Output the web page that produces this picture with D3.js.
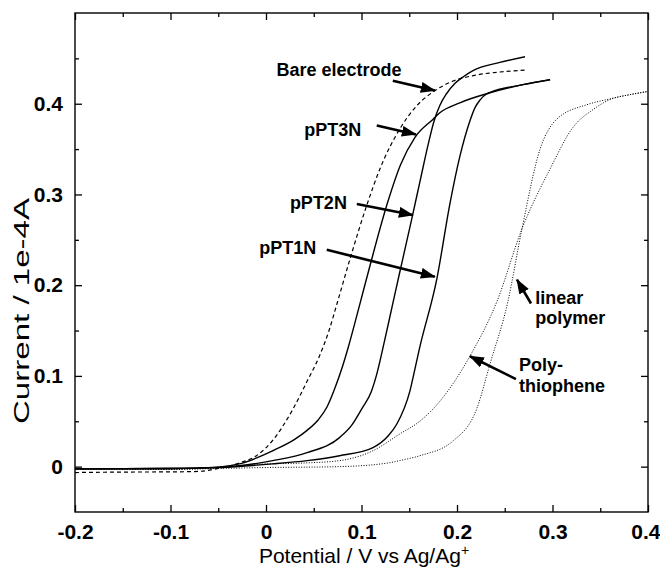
<!DOCTYPE html>
<html>
<head>
<meta charset="utf-8">
<script src="https://cdn.jsdelivr.net/npm/d3@7"></script>
<style>
body { margin: 0; background: #fff; }
text { font-family: "Liberation Sans", Arial, sans-serif; fill: #000; }
</style>
</head>
<body>
<svg id="chart"></svg>
<script>
// potential (V vs Ag/Ag+), current (1e-4 A)
var bareElectrode = [[-0.2,-0.0065],[-0.15,-0.006],[-0.1,-0.0058],[-0.07,-0.0052],[-0.05,-0.002],[-0.04,0.0],[-0.028,0.004],[-0.01,0.012],[0.007,0.029],[0.028,0.063],[0.043,0.094],[0.056,0.122],[0.066,0.150],[0.075,0.182],[0.088,0.229],[0.1055,0.288],[0.12,0.33],[0.14,0.372],[0.158,0.398],[0.177,0.4145],[0.196,0.425],[0.217,0.431],[0.245,0.435],[0.272,0.437]];
var pPT3N = [[-0.2,-0.0025],[-0.1,-0.002],[-0.05,-0.0005],[-0.028,0.003],[0.007,0.0175],[0.03,0.030],[0.043,0.040],[0.055,0.052],[0.064,0.066],[0.072,0.086],[0.08,0.110],[0.086,0.131],[0.098,0.178],[0.109,0.222],[0.127,0.290],[0.141,0.333],[0.156,0.363],[0.175,0.383],[0.182,0.39],[0.203,0.401],[0.2345,0.412],[0.269,0.421],[0.2975,0.4265]];
var pPT2N = [[-0.2,-0.0025],[-0.1,-0.002],[-0.05,-0.0008],[-0.028,0.001],[0.007,0.0066],[0.043,0.0154],[0.077,0.032],[0.09,0.046],[0.101,0.065],[0.11,0.082],[0.116,0.102],[0.124,0.138],[0.132,0.176],[0.14,0.214],[0.152,0.270],[0.162,0.318],[0.170,0.356],[0.176,0.381],[0.182,0.398],[0.189,0.411],[0.198,0.4225],[0.207,0.430],[0.2167,0.4365],[0.245,0.4455],[0.2712,0.4518]];
var pPT1N = [[-0.2,-0.0025],[-0.1,-0.002],[-0.05,-0.001],[0.007,0.003],[0.043,0.0066],[0.077,0.012],[0.112,0.021],[0.128,0.034],[0.137,0.047],[0.1506,0.083],[0.158,0.1175],[0.1611,0.132],[0.1789,0.207],[0.1926,0.290],[0.203,0.342],[0.2135,0.381],[0.219,0.396],[0.224,0.404],[0.2313,0.411],[0.2345,0.4125],[0.269,0.421],[0.2975,0.4265]];
var polythiophene = [[-0.2,-0.003],[-0.1,-0.003],[-0.05,-0.001],[-0.028,0.001],[0.0,0.003],[0.04,0.004],[0.077,0.0066],[0.112,0.0175],[0.14,0.036],[0.161,0.05],[0.182,0.072],[0.2135,0.1217],[0.2418,0.182],[0.268,0.262],[0.2974,0.328],[0.3215,0.374],[0.3425,0.3936],[0.36,0.4045],[0.381,0.41],[0.4,0.4135]];
var linearPolymer = [[-0.2,-0.003],[-0.1,-0.003],[-0.05,-0.002],[0.0,-0.001],[0.077,0.0],[0.13,0.0044],[0.14,0.0067],[0.161,0.012],[0.196,0.0285],[0.221,0.0647],[0.2345,0.113],[0.2533,0.182],[0.268,0.262],[0.287,0.35],[0.3045,0.383],[0.3362,0.399],[0.357,0.4046],[0.381,0.41],[0.4,0.4135]];

var xTicks = [-0.2,-0.1,0,0.1,0.2,0.3,0.4];
var xMinor = [-0.15,-0.05,0.05,0.15,0.25,0.35];
var yTicks = [0,0.1,0.2,0.3,0.4];
var yMinor = [0.05,0.15,0.25,0.35,0.45];

// label text, anchor point in data units
var labels = [
    {lines:["Bare electrode"], x:0.011, y:[0.431]},
    {lines:["pPT3N"], x:0.040, y:[0.364]},
    {lines:["pPT2N"], x:0.025, y:[0.284]},
    {lines:["pPT1N"], x:-0.007, y:[0.234]},
    {lines:["linear","polymer"], x:0.282, y:[0.179,0.157]},
    {lines:["Poly-","thiophene"], x:0.265, y:[0.105,0.082]}
];
// arrows: tail -> tip, data units
var arrows = [
    [[0.1328,0.4254],[0.1768,0.4145]],
    [[0.1160,0.3761],[0.1569,0.3662]],
    [[0.0951,0.2895],[0.1538,0.2774]],
    [[0.0636,0.2390],[0.1768,0.2094]],
    [[0.2775,0.1798],[0.2628,0.2061]],
    [[0.2617,0.0965],[0.2135,0.1217]]
];

function drawChart() {
    var W = 660, H = 569;
    var mLeft = 75, mRight = 648, mTop = 13, mBottom = 512;

    var svg = d3.select("#chart").attr("width", W).attr("height", H);

    var x = d3.scaleLinear().domain([-0.2, 0.4]).range([mLeft, mRight]);
    var y = d3.scaleLinear().domain([-0.05, 0.5]).range([mBottom, mTop]);

    var fmt = function(d) { return Math.abs(d) < 1e-9 ? "0" : d.toFixed(1); };

    var defs = svg.append("defs");
    defs.append("clipPath").attr("id", "plotclip")
        .append("rect").attr("x", mLeft).attr("y", mTop)
        .attr("width", mRight - mLeft).attr("height", mBottom - mTop);

    defs.append("marker")
        .attr("id", "head")
        .attr("markerUnits", "userSpaceOnUse")
        .attr("viewBox", "0 0 15 11")
        .attr("refX", 14).attr("refY", 5.5)
        .attr("markerWidth", 15).attr("markerHeight", 11)
        .attr("orient", "auto")
      .append("path").attr("d", "M0,0 L15,5.5 L0,11 Z").attr("fill", "#000");

    function tickAxis(axis, ticks, size, cls, pos, labelled) {
        var g = svg.append("g").attr("class", cls).attr("transform", pos)
            .call(axis.tickValues(ticks).tickSize(-size).tickPadding(12)
                .tickFormat(labelled ? fmt : ""));
        g.select(".domain").remove();
        g.selectAll("line").attr("stroke", "#000").attr("stroke-width", 1.3);
        return g;
    }

    tickAxis(d3.axisBottom(x), xTicks, 7, "xaxis", "translate(0," + mBottom + ")", true);
    tickAxis(d3.axisBottom(x), xMinor, 4, "xminor", "translate(0," + mBottom + ")", false);
    tickAxis(d3.axisTop(x), xTicks, 7, "xtop", "translate(0," + mTop + ")", false);
    tickAxis(d3.axisTop(x), xMinor, 4, "xtopminor", "translate(0," + mTop + ")", false);
    tickAxis(d3.axisLeft(y), yTicks, 7, "yaxis", "translate(" + mLeft + ",0)", true);
    tickAxis(d3.axisLeft(y), yMinor, 4, "yminor", "translate(" + mLeft + ",0)", false);
    tickAxis(d3.axisRight(y), yTicks, 7, "yright", "translate(" + mRight + ",0)", false);
    tickAxis(d3.axisRight(y), yMinor, 4, "yrightminor", "translate(" + mRight + ",0)", false);

    svg.selectAll(".xaxis text, .yaxis text")
        .style("font-size", "21px").style("font-weight", "bold");
    svg.selectAll(".xaxis .tick:last-of-type text").attr("text-anchor", "end").attr("dx", "12");

    svg.append("rect")
        .attr("x", mLeft).attr("y", mTop)
        .attr("width", mRight - mLeft).attr("height", mBottom - mTop)
        .attr("fill", "none").attr("stroke", "#000").attr("stroke-width", 1.4);

    var line = d3.line()
        .x(function(d) { return x(d[0]); })
        .y(function(d) { return y(d[1]); })
        .curve(d3.curveMonotoneX);

    var series = [
        {data: bareElectrode, dash: "4,3", w: 1.2},
        {data: pPT3N, dash: null, w: 1.4},
        {data: pPT2N, dash: null, w: 1.4},
        {data: pPT1N, dash: null, w: 1.4},
        {data: polythiophene, dash: "1,1.6", w: 1.0},
        {data: linearPolymer, dash: "1,1.6", w: 1.0}
    ];

    svg.append("g").attr("clip-path", "url(#plotclip)")
        .selectAll("path")
        .data(series)
        .enter().append("path")
        .attr("d", function(d) { return line(d.data); })
        .attr("fill", "none")
        .attr("stroke", "#000")
        .attr("stroke-width", function(d) { return d.w; })
        .attr("stroke-dasharray", function(d) { return d.dash; });

    svg.append("g").selectAll("line")
        .data(arrows)
        .enter().append("line")
        .attr("x1", function(d) { return x(d[0][0]); })
        .attr("y1", function(d) { return y(d[0][1]); })
        .attr("x2", function(d) { return x(d[1][0]); })
        .attr("y2", function(d) { return y(d[1][1]); })
        .attr("stroke", "#000")
        .attr("stroke-width", 2.6)
        .attr("marker-end", "url(#head)");

    labels.forEach(function(l) {
        l.lines.forEach(function(s, i) {
            svg.append("text")
                .attr("x", x(l.x)).attr("y", y(l.y[i]))
                .style("font-size", "18px").style("font-weight", "bold")
                .text(s);
        });
    });

    var xt = svg.append("text")
        .attr("x", 364).attr("y", 563)
        .attr("text-anchor", "middle")
        .style("font-size", "21px")
        .text("Potential / V vs Ag/Ag");
    xt.append("tspan").attr("baseline-shift", "super").style("font-size", "14px").text("+");

    // the scan is stretched vertically, so the rotated title runs long
    svg.append("text")
        .attr("transform", "translate(29,311) rotate(-90)")
        .attr("text-anchor", "middle")
        .attr("textLength", 226)
        .attr("lengthAdjust", "spacingAndGlyphs")
        .style("font-size", "22px")
        .text("Current / 1e-4A");
}
drawChart();
</script>
</body>
</html>
